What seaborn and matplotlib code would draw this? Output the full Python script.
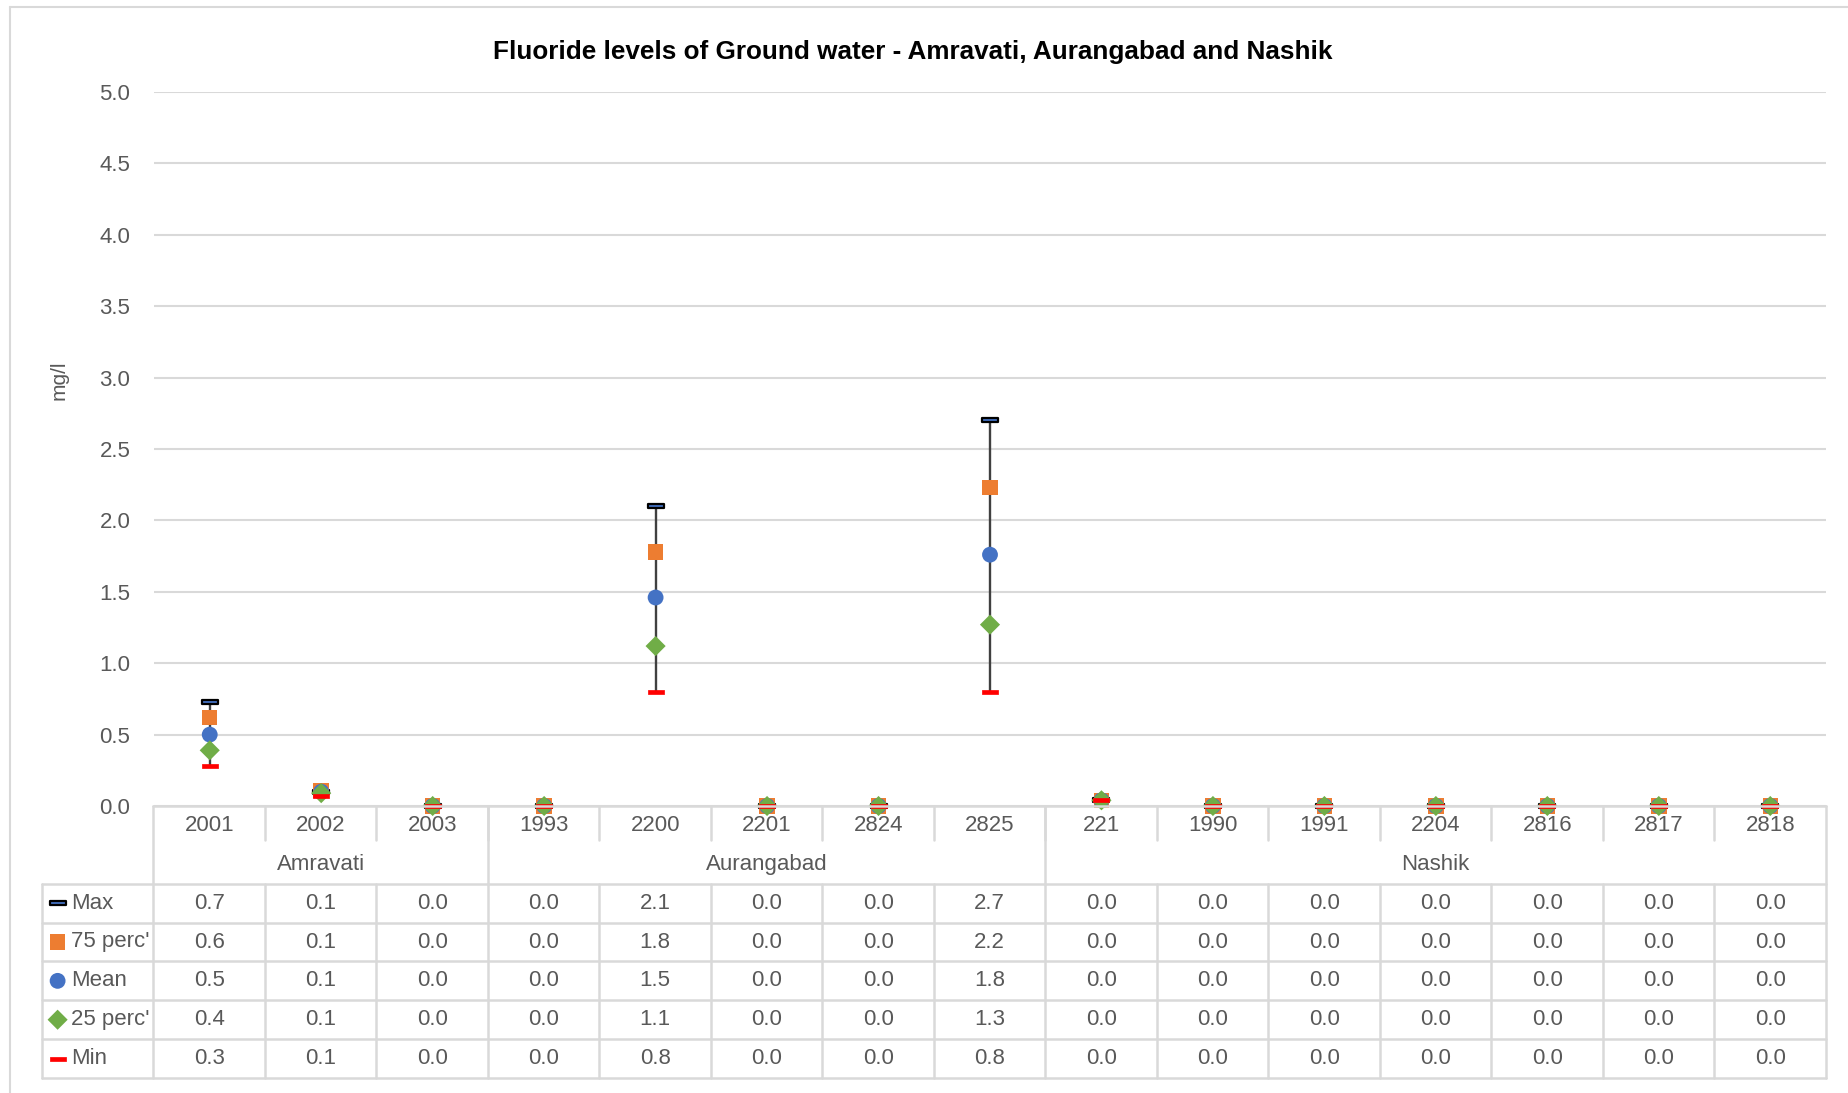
import numpy as np
import pandas as pd
import matplotlib
matplotlib.use('Agg')
import matplotlib.pyplot as plt
from matplotlib.path import Path
from matplotlib.lines import Line2D
import seaborn as sns

# datos
stations = ['2001', '2002', '2003', '1993', '2200', '2201', '2824', '2825',
            '221', '1990', '1991', '2204', '2816', '2817', '2818']
districts = ['Amravati', 'Aurangabad', 'Nashik']
district_sizes = [3, 5, 7]
max_vals = [0.73, 0.10, 0.0, 0.0, 2.10, 0.0, 0.0, 2.70, 0.04, 0.0, 0.0, 0.0, 0.0, 0.0, 0.0]
p75_vals = [0.62, 0.11, 0.0, 0.0, 1.78, 0.0, 0.0, 2.23, 0.04, 0.0, 0.0, 0.0, 0.0, 0.0, 0.0]
mean_vals = [0.50, 0.10, 0.0, 0.0, 1.46, 0.0, 0.0, 1.76, 0.04, 0.0, 0.0, 0.0, 0.0, 0.0, 0.0]
p25_vals = [0.39, 0.09, 0.0, 0.0, 1.12, 0.0, 0.0, 1.27, 0.04, 0.0, 0.0, 0.0, 0.0, 0.0, 0.0]
min_vals = [0.28, 0.07, 0.0, 0.0, 0.80, 0.0, 0.0, 0.80, 0.04, 0.0, 0.0, 0.0, 0.0, 0.0, 0.0]
series_names = ['Max', "75 perc'", 'Mean', "25 perc'", 'Min']

sns.set_theme(style='white')
plt.rcParams['font.family'] = ['Liberation Sans', 'DejaVu Sans']

TXT = '#595959'
GRID = '#d9d9d9'

dash = Path([(-1, -0.27), (1, -0.27), (1, 0.27), (-1, 0.27), (-1, -0.27)],
            [Path.MOVETO, Path.LINETO, Path.LINETO, Path.LINETO, Path.CLOSEPOLY])

estilos = {
    'Max': dict(marker=dash, color='#4472C4', edgecolor='black', linewidth=1.6, s=130),
    "75 perc'": dict(marker='s', color='#ED7D31', edgecolor='none', linewidth=0, s=125),
    'Mean': dict(marker='o', color='#4472C4', edgecolor='none', linewidth=0, s=130),
    "25 perc'": dict(marker='D', color='#70AD47', edgecolor='none', linewidth=0, s=105),
    'Min': dict(marker=dash, color='#FF0000', edgecolor='#FF0000', linewidth=0.5, s=130),
}

df = pd.DataFrame({'station': stations, 'pos': np.arange(len(stations)),
                   'Max': max_vals, "75 perc'": p75_vals, 'Mean': mean_vals,
                   "25 perc'": p25_vals, 'Min': min_vals})
largo = df.melt(id_vars=['station', 'pos'], value_vars=series_names,
                var_name='serie', value_name='valor')

fig = plt.figure(figsize=(18.48, 10.93), dpi=100)
W, H = 1848, 1093
ax = fig.add_axes([154 / W, 1 - 806 / H, (1826 - 154) / W, (806 - 92) / H])

# lineas max-min
ax.vlines(df['pos'], df['Min'], df['Max'], color='#404040', linewidth=1.7, zorder=2)

for i, nombre in enumerate(series_names):
    st = estilos[nombre]
    sns.scatterplot(data=largo[largo['serie'] == nombre], x='pos', y='valor', ax=ax,
                    marker=st['marker'], color=st['color'], edgecolor=st['edgecolor'],
                    linewidth=st['linewidth'], s=st['s'], legend=False, zorder=3 + i,
                    clip_on=False)

ax.set_xlim(-0.5, len(stations) - 0.5)
ax.set_ylim(0, 5)
ax.set_yticks(np.arange(0, 5.01, 0.5))
ax.set_yticklabels([f'{v:.1f}' for v in np.arange(0, 5.01, 0.5)])
ax.tick_params(axis='y', length=0, pad=17, labelsize=16, labelcolor=TXT)
ax.set_xticks([])
ax.set_xlabel('')
ax.set_ylabel('')
ax.grid(axis='y', color=GRID, linewidth=1.5)
for sp in ax.spines.values():
    sp.set_visible(False)

fig.text(59 / W, 1 - 380 / H, 'mg/l', rotation=90, ha='center', va='center',
         fontsize=15, color=TXT)
fig.text(913 / W, 1 - 52 / H, 'Fluoride levels of Ground water - Amravati, Aurangabad and Nashik',
         ha='center', va='center', fontsize=18.8, fontweight='bold', color='black')

# tabla de datos
n = len(stations)
tab = fig.add_axes([42 / W, 1 - 1078 / H, (1826 - 42) / W, (1078 - 806) / H])
tab.set_xlim(-1.5, n - 0.5)
tab.set_ylim(7, 0)
tab.axis('off')
lc = dict(color=GRID, linewidth=1.8, clip_on=False)

tab.plot([-0.5, n - 0.5], [0, 0], **lc)
tab.plot([-1.5, n - 0.5], [2, 2], **lc)
for r in range(3, 8):
    tab.plot([-1.5, n - 0.5], [r, r], **lc)
tab.plot([-1.5, -1.5], [2, 7], **lc)
tab.plot([-0.5, -0.5], [0, 7], **lc)
tab.plot([n - 0.5, n - 0.5], [0, 7], **lc)
for k in range(1, n):
    tab.plot([k - 0.5, k - 0.5], [0, 0.88], **lc)
    tab.plot([k - 0.5, k - 0.5], [2, 7], **lc)

inicio = 0
for d, tam in zip(districts, district_sizes):
    if inicio > 0:
        tab.plot([inicio - 0.5, inicio - 0.5], [0, 2], **lc)
    tab.text(inicio + (tam - 1) / 2, 1.5, d, ha='center', va='center', fontsize=16, color=TXT)
    inicio += tam

for k, s in enumerate(stations):
    tab.text(k, 0.5, s, ha='center', va='center', fontsize=16, color=TXT)

for r, nombre in enumerate(series_names):
    fila = r + 2.5
    st = estilos[nombre]
    tab.scatter([-1.36], [fila], marker=st['marker'], color=st['color'],
                edgecolors=st['edgecolor'], linewidths=st['linewidth'], s=st['s'],
                clip_on=False, zorder=5)
    tab.text(-1.24, fila, nombre, ha='left', va='center', fontsize=16, color=TXT)
    for k, v in enumerate(df[nombre]):
        tab.text(k, fila, f'{v:.1f}', ha='center', va='center', fontsize=16, color=TXT)

# marco exterior
fig.add_artist(Line2D([10 / W, 10 / W], [0, 1 - 7 / H], color=GRID, linewidth=1.5))
fig.add_artist(Line2D([10 / W, 1], [1 - 7 / H, 1 - 7 / H], color=GRID, linewidth=1.5))

fig.savefig('out.png', dpi=100, facecolor='white')
